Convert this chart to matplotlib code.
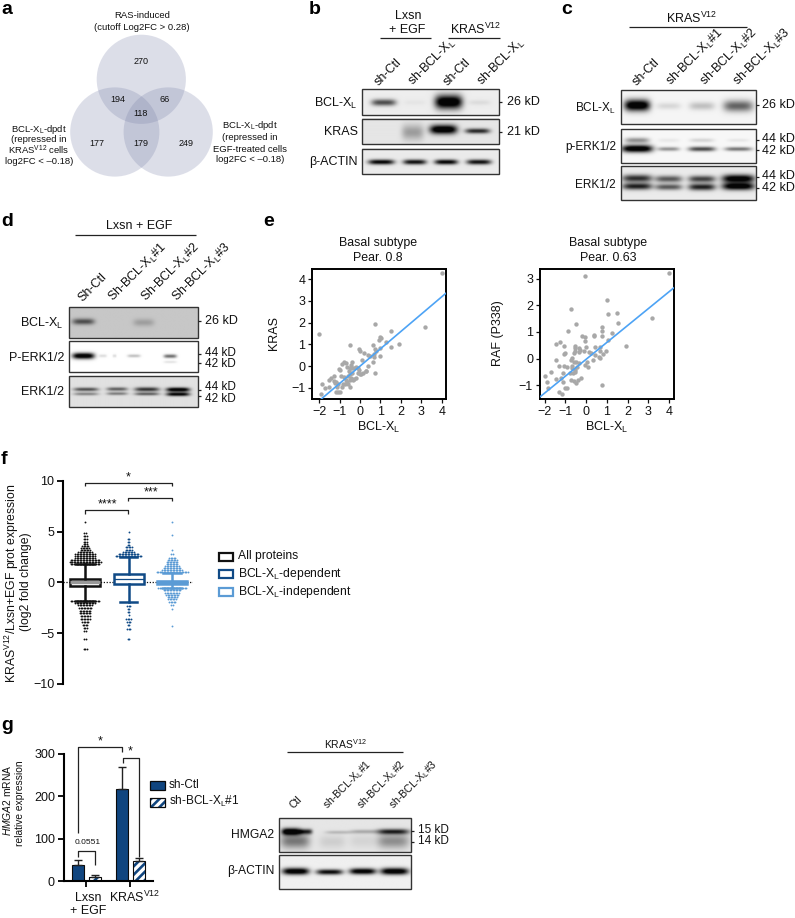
import numpy as np
import matplotlib
matplotlib.use("Agg")
import matplotlib.pyplot as plt
from matplotlib.patches import Circle, Rectangle

plt.rcParams['font.family'] = ['Liberation Sans', 'DejaVu Sans']
plt.rcParams['mathtext.fontset'] = 'custom'
plt.rcParams['mathtext.rm'] = 'Liberation Sans'
plt.rcParams['mathtext.it'] = 'Liberation Sans:italic'
plt.rcParams['mathtext.bf'] = 'Liberation Sans:bold'
plt.rcParams['mathtext.default'] = 'regular'
plt.rcParams['hatch.linewidth'] = 1.9

W, H = 795, 918
XL = r'BCL-X$_{L}$'
SHXL = r'sh-BCL-X$_{L}$'
KV = r'KRAS$^{V12}$'

# ---------------- data ----------------
venn_counts = ['270', '194', '66', '118', '177', '179', '249']

# scatter e (BCL-XL vs KRAS)
e1_x = [4.0,3.2,-2.0,0.75,1.5,1.9,1.5,1.0,1.05,0.95,1.25,0.65,-0.5,-0.05,0.0,0.2,0.4,0.5,0.75,0.8,0.7,0.7,1.0,1.0,0.65,0.4,0.3,0.75,0.1,
        -1.9,-1.85,-1.7,-1.5,-1.5,-1.4,-1.3,-1.3,-1.25,-1.2,-1.15,-1.1,-1.1,-1.2,-1.0,-1.0,-1.05,-0.9,-0.8,-0.7,-0.65,-0.5,-0.45,-0.4,-0.4,-0.3,-0.2,-0.1,
        -0.55,-0.5,-0.6,-0.4,-0.45,-0.35,-0.5,-0.2,-0.3,-0.1,-0.05,0.0,0.05,0.15,0.3,-0.65,-0.7,-0.8,-0.85,-0.75,-0.6,-0.5,-0.9,-0.95]
e1_y = [4.28,1.82,1.5,1.95,1.63,1.0,0.9,1.35,1.3,1.2,1.1,0.97,0.97,0.78,0.7,0.6,0.5,0.45,0.8,0.7,0.55,0.4,0.85,0.45,0.2,-0.02,-0.25,-0.3,0.3,
        -1.3,-0.85,-1.0,-0.95,-0.65,-0.55,-0.45,-0.7,-0.8,-0.75,-0.95,-0.85,-1.2,-1.2,-1.2,-0.2,-0.15,0.1,0.2,0.15,-0.05,-0.1,0.05,-0.1,0.2,-0.1,-0.05,-0.1,
        -0.25,-0.35,-0.45,-0.3,-0.55,-0.65,-0.65,-0.55,-0.6,-0.3,-0.2,-0.35,-0.35,-0.3,-0.25,-0.75,-0.65,-0.5,-0.85,-0.85,-0.85,-0.95,-0.95,-0.45]
e1_fit_x = [-1.9, 4.21]
e1_fit_y = [-1.52, 3.36]

# scatter e (BCL-XL vs RAF P338)
e2_x = [4.0,-0.05,1.0,-0.75,1.5,1.05,3.2,-0.47,1.55,0.77,0.77,-0.86,1.26,-0.2,-0.05,0.4,0.4,0.77,-0.05,1.05,-1.45,-1.25,-1.06,1.92,
        -0.53,-0.53,-0.36,-0.32,-0.52,-0.6,-0.34,-0.12,0.0,0.45,0.68,0.65,0.98,0.13,0.25,-1.0,-1.05,0.43,0.6,0.8,0.65,-1.45,-0.74,-0.66,-0.61,0.33,0.05,
        -0.07,0.08,-1.3,-1.08,-0.93,-0.66,-0.69,-0.48,-0.35,-0.44,-0.52,-0.76,-0.64,-0.52,-1.7,-2.0,-1.12,-1.45,-1.2,-1.87,-1.1,-0.74,-0.61,-0.48,-0.4,-0.26,0.77,-1.82,-1.0,-0.93,-1.3,-1.15]
e2_y = [3.2,3.08,2.18,1.86,1.72,1.68,1.51,1.3,1.35,1.19,1.05,1.04,0.98,0.84,0.8,0.89,0.84,0.86,0.66,0.7,0.56,0.62,0.47,0.49,
        0.47,0.39,0.39,0.33,0.3,0.22,0.25,0.29,0.44,0.45,0.44,0.3,0.27,0.25,0.2,0.21,0.16,0.12,0.07,0.16,0.04,-0.05,-0.05,0.01,-0.11,-0.05,-0.11,
        -0.25,-0.31,-0.28,-0.26,-0.3,-0.26,-0.36,-0.11,-0.18,-0.3,-0.42,-0.53,-0.53,-0.49,-0.49,-0.64,-0.54,-0.76,-0.71,-0.88,-0.86,-0.81,-0.83,-0.9,-0.8,-0.71,-0.98,-1.08,-1.09,-1.1,-1.24,-1.33]
e2_fit_x = [-2.23, 4.23]
e2_fit_y = [-1.43, 2.65]

# panel f: rows of the swarm (level, number of dots)
f_names = ['All proteins', 'BCL-XL-dependent', 'BCL-XL-independent']
f_levels = [
    [1.8,2.0,2.2,2.4,2.6,2.8,3.0,3.2,3.4,3.6,3.8,4.0,4.3,4.6,4.9,5.9,
     -1.8,-2.0,-2.2,-2.5,-2.8,-3.0,-3.3,-3.6,-3.9,-4.2,-4.5,-4.8,-5.6,-6.6],
    [2.6,2.8,3.0,3.2,3.5,3.7,4.0,4.3,5.0,
     -2.3,-2.6,-2.9,-3.2,-3.6,-3.9,-4.2,-4.6,-5.6],
    [1.0,1.2,1.4,1.6,1.8,2.0,2.2,2.4,2.8,3.2,4.7,5.9,
     -0.6,-0.8,-1.0,-1.2,-1.4,-1.6,-1.9,-2.2,-2.6,-4.3],
]
f_counts = [
    [20,22,20,14,14,14,10,7,6,5,3,3,3,3,2,1, 20,14,10,9,8,8,7,7,5,4,3,2,2,3],
    [18,14,8,5,5,2,2,2,1, 3,2,2,1,4,3,2,3,2],
    [22,14,12,10,8,8,7,5,2,1,1,1, 20,12,10,9,7,6,5,2,1,1],
]
f_q1 = [-0.33, -0.2, -0.13]
f_med = [0.0, 0.3, 0.0]
f_q3 = [0.33, 0.79, 0.13]
f_low = [-1.8, -1.9, -0.6]
f_high = [1.8, 2.5, 0.9]

# panel g bars
g_ctl = [38, 217]
g_ctl_err = [12, 52]
g_sh = [11, 48]
g_sh_err = [5, 6]

# blot bands: x centre, y centre, half width, half height, darkness (fractions of the blot)
blot_b = [
    (0.93, [(.158,.52,.09,.13,.55),(.385,.52,.08,.1,.03),(.633,.5,.1,.27,1.0),(.859,.52,.08,.1,.06)]),
    (0.90, [(.37,.55,.08,.3,.25),(.595,.44,.1,.18,.95),(.845,.5,.09,.1,.65)]),
    (0.92, [(.14,.54,.095,.1,.8),(.385,.54,.085,.1,.75),(.615,.54,.085,.1,.8),(.855,.54,.09,.1,.75)]),
]
blot_c = [
    (0.96, [(.119,.45,.095,.17,1.0),(.353,.47,.09,.1,.1),(.6,.47,.095,.12,.18),(.87,.47,.11,.17,.5)]),
    (0.97, [(.119,.58,.115,.11,1.0),(.353,.59,.08,.06,.35),(.6,.59,.1,.07,.6),(.87,.59,.1,.06,.45),
            (.119,.33,.09,.08,.35),(.353,.33,.08,.06,.05),(.6,.33,.09,.06,.12),(.87,.33,.08,.05,.06)]),
    (0.92, [(.119,.36,.11,.11,.65),(.353,.38,.1,.1,.5),(.6,.38,.1,.1,.58),(.87,.37,.12,.12,.9),
            (.119,.6,.11,.1,.7),(.353,.62,.1,.09,.5),(.6,.62,.1,.1,.7),(.87,.6,.12,.11,.9)]),
]
blot_d = [
    (0.78, [(.11,.47,.085,.1,.42),(.575,.5,.08,.12,.14)]),
    (1.00, [(.11,.48,.085,.1,1.0),(.26,.48,.03,.05,.12),(.35,.48,.015,.05,.12),(.5,.48,.05,.05,.22),(.78,.49,.05,.06,.5),(.78,.68,.05,.04,.1)]),
    (0.88, [(.13,.43,.095,.06,.5),(.37,.42,.08,.06,.45),(.6,.43,.095,.07,.6),(.84,.44,.09,.07,.88),
            (.13,.58,.095,.05,.32),(.37,.57,.08,.05,.35),(.6,.58,.095,.05,.45),(.84,.59,.09,.06,.8)]),
]
blot_g = [
    (0.90, [(.09,.4,.07,.1,1.0),(.2,.4,.05,.08,.65),(.45,.42,.1,.05,.15),(.64,.4,.1,.06,.2),(.86,.4,.12,.08,.65),
            (.12,.68,.11,.22,.38),(.86,.68,.12,.22,.3),(.4,.7,.1,.2,.08),(.63,.68,.1,.2,.06)]),
    (0.94, [(.125,.48,.1,.1,.95),(.38,.5,.1,.08,.8),(.63,.48,.1,.09,.9),(.87,.48,.105,.1,.95)]),
]
# --------------------------------------

fig = plt.figure(figsize=(W / 100, H / 100), dpi=100)
ov = fig.add_axes([0, 0, 1, 1], zorder=0)
ov.set_xlim(0, W)
ov.set_ylim(H, 0)
ov.axis('off')


def T(x, y, s, size=9, ha='center', va='center', **kw):
    ov.text(x, y, s, fontsize=size, ha=ha, va=va, color=kw.pop('color', '#111111'), **kw)


def L(xs, ys, lw=0.9, color='#222222', **kw):
    ov.plot(xs, ys, color=color, lw=lw, solid_capstyle='butt', **kw)


def blot(x0, x1, y0, y1, bg, bands):
    nx, ny = int((x1 - x0) * 2), int((y1 - y0) * 2)
    xx, yy = np.meshgrid(np.linspace(0, 1, nx), np.linspace(0, 1, ny))
    im = np.full_like(xx, bg)
    for cx, cy, w, h, d in bands:
        im = im - 1.15 * d * np.exp(-((xx - cx) / w) ** 4 - ((yy - cy) / h) ** 2)
    ov.imshow(np.clip(im, 0.02, 1), extent=(x0, x1, y1, y0), cmap='gray', vmin=0, vmax=1,
              aspect='auto', interpolation='bilinear', zorder=1)
    ov.add_patch(Rectangle((x0, y0), x1 - x0, y1 - y0, fill=False, ec='#333333', lw=1.0, zorder=2))


def panel_axes(l, r, t, b):
    return fig.add_axes([l / W, 1 - b / H, (r - l) / W, (b - t) / H], zorder=2)


def lane_label(x, y, s, size=9):
    T(x, y, s, size, ha='left', va='baseline', rotation=45, rotation_mode='anchor')


# panel letters
for s, x, y in [('a', 1, 10), ('b', 309, 10), ('c', 561, 10), ('d', 1, 222), ('e', 263, 222),
                ('f', 1, 460), ('g', 1, 726)]:
    T(x, y, s, size=14, ha='left', fontweight='bold', color='black')

# ---- a: Venn
for cx, cy in [(141.3, 79.3), (114.8, 132), (168.2, 132)]:
    ov.add_patch(Circle((cx, cy), 44.6, fc='#777FA7', ec='none', alpha=0.25))
for s, x, y in zip(venn_counts, [141, 118, 165, 141, 97, 141, 186], [62, 99, 99, 114, 144, 144, 144]):
    T(x, y, s, size=6.5)
T(142, 15, 'RAS-induced', 6.8)
T(142, 27, '(cutoff Log2FC > 0.28)', 6.8)
for s, y in zip([XL + '-dpdt', '(repressed in', KV + ' cells', 'log2FC < \u20130.18)'],
                [129, 140, 150, 162]):
    T(39, y, s, 6.8)
for s, y in zip([XL + '-dpdt', '(repressed in', 'EGF-treated cells', 'log2FC < \u20130.18)'],
                [126, 137, 149, 160]):
    T(250, y, s, 6.8)

# ---- b
for (bg, bands), (y0, y1) in zip(blot_b, [(89, 115), (118.7, 144.3), (148.7, 174.3)]):
    blot(362.3, 499.3, y0, y1, bg, bands)
T(408, 16, 'Lxsn', 9)
T(407, 30, '+ EGF', 9)
T(476, 29, KV, 9)
L([379.5, 430.5], [38, 38])
L([448, 499.5], [38, 38])
for s, x in zip(['sh-Ctl', SHXL, 'sh-Ctl', SHXL], [379, 413, 448, 482]):
    lane_label(x, 86, s)
T(358, 103, XL, 9, ha='right')
T(358, 132, 'KRAS', 9, ha='right')
T(358, 162, '\u03b2-ACTIN', 9, ha='right')
L([499.3, 502], [102, 102])
L([499.3, 502], [132, 132])
T(507, 102, '26 kD', 9, ha='left')
T(507, 132, '21 kD', 9, ha='left')

# ---- c
for (bg, bands), (y0, y1) in zip(blot_c, [(90.3, 124.3), (128.7, 162.7), (166.3, 200)]):
    blot(620.7, 755.7, y0, y1, bg, bands)
T(692, 18, KV, 9)
L([629, 747], [27, 27])
for s, x in zip(['sh-Ctl', SHXL + '#1', SHXL + '#2', SHXL + '#3'], [637, 671, 705, 738]):
    lane_label(x, 86, s)
T(616, 108, XL, 8.5, ha='right')
T(616, 147, 'p-ERK1/2', 8.5, ha='right')
T(616, 185, 'ERK1/2', 8.5, ha='right')
for y in [105, 140, 150, 177, 188]:
    L([755.7, 758.5], [y, y])
for s, y in zip(['26 kD', '44 kD', '42 kD', '44 kD', '42 kD'], [105, 139, 151, 176, 188]):
    T(762, y, s, 9, ha='left')

# ---- d
for (bg, bands), (y0, y1) in zip(blot_d, [(307, 337.7), (341.3, 372.3), (376, 407)]):
    blot(69, 198.3, y0, y1, bg, bands)
T(139, 226, 'Lxsn + EGF', 9)
L([75, 196], [235, 235])
for s, x in zip(['Sh-Ctl', 'Sh-BCL-X$_{L}$#1', 'Sh-BCL-X$_{L}$#2', 'Sh-BCL-X$_{L}$#3'], [82, 113, 146, 177]):
    lane_label(x, 302, s)
T(64, 323, XL, 9, ha='right')
T(64, 358, 'P-ERK1/2', 9, ha='right')
T(64, 392, 'ERK1/2', 9, ha='right')
for y in [321, 354, 363, 390, 396]:
    L([198.3, 201], [y, y])
for s, y, sz in zip(['26 kD', '44 kD', '42 kD', '44 kD', '42 kD'], [321, 352.5, 364, 387.5, 399],
                    [9, 8.5, 8.5, 8.5, 8.5]):
    T(205, y, s, sz, ha='left')

# ---- e
for (l, r, xlim, ylim, xs, ys, fx, fy, yt, ttl, cx, yl, ylx) in [
    (312.3, 446, (-2.34, 4.21), (-1.52, 4.475), e1_x, e1_y, e1_fit_x, e1_fit_y, [-1, 0, 1, 2, 3, 4],
     'Pear. 0.8', 378, 'KRAS', 274),
    (540, 673.7, (-2.23, 4.23), (-1.51, 3.36), e2_x, e2_y, e2_fit_x, e2_fit_y, [-1, 0, 1, 2, 3],
     'Pear. 0.63', 608, 'RAF (P338)', 498),
]:
    ax = panel_axes(l, r, 269, 399)
    ax.scatter(xs, ys, s=10, color='#a8a8a8', linewidths=0, zorder=2)
    ax.plot(fx, fy, color='#4da3f5', lw=1.2, zorder=3)
    ax.set_xlim(*xlim)
    ax.set_ylim(*ylim)
    ax.set_xticks([-2, -1, 0, 1, 2, 3, 4])
    ax.set_xticklabels(['\u22122', '\u22121', '0', '1', '2', '3', '4'])
    ax.set_yticks(yt)
    ax.set_yticklabels([str(v).replace('-', '\u2212') for v in yt])
    ax.tick_params(labelsize=9, length=3, width=0.9, pad=2, colors='#111111')
    for sp in ax.spines.values():
        sp.set_linewidth(1.4)
    T(cx, 243, 'Basal subtype', 8.9)
    T(cx, 258, ttl, 8.9)
    T((l + r) / 2, 427, XL, 9)
    T(ylx, 333, yl, 9, rotation=90)

# ---- f
f_cols = ['#111111', '#104a86', '#5b9bd5']
ax = panel_axes(63.3, 193, 480.7, 684)
ax.patch.set_visible(False)
ax.set_xlim(0.5, 3.48)
ax.set_ylim(-10, 10)
ax.axhline(0, color='#111111', lw=0.9, ls=(0, (1, 1.3)), zorder=1)
for i, (lv, ct, col) in enumerate(zip(f_levels, f_counts, f_cols)):
    xs, ys = [], []
    for y, n in zip(lv, ct):
        xs.extend(i + 1 + (np.arange(n) - (n - 1) / 2) * 0.034)
        ys.extend([y] * n)
    ax.scatter(xs, ys, s=1.8, color=col, linewidths=0, zorder=2)
stats = [dict(med=m, q1=a, q3=b, whislo=lo, whishi=hi, fliers=[])
         for m, a, b, lo, hi in zip(f_med, f_q1, f_q3, f_low, f_high)]
for i, (st, col) in enumerate(zip(stats, f_cols)):
    lw = 1.8
    ax.bxp([st], positions=[i + 1], widths=0.69, showfliers=False, patch_artist=True, capwidths=0.4,
           manage_ticks=False, zorder=3,
           boxprops=dict(edgecolor=col, facecolor='white', lw=lw),
           medianprops=dict(color='#999999' if i == 0 else col, lw=2.4 if i != 1 else 0.9, ls='-'),
           whiskerprops=dict(color=col, lw=lw), capprops=dict(color=col, lw=lw))
ax.set_xticks([])
ax.set_yticks([-10, -5, 0, 5, 10])
ax.set_yticklabels(['\u221210', '\u22125', '0', '5', '10'])
ax.tick_params(labelsize=9, length=4.5, width=1.4, pad=2, colors='#111111')
for k in ('top', 'right', 'bottom'):
    ax.spines[k].set_visible(False)
ax.spines['left'].set_linewidth(1.5)
T(12, 583.5, r'KRAS$^{V12}$/Lxsn+EGF prot expression', 8.8, rotation=90)
T(26, 582, '(log2 fold change)', 8.8, rotation=90)
L([85, 85, 172, 172], [486, 482.5, 482.5, 486], lw=0.9)
L([128, 128, 172, 172], [501, 497.5, 497.5, 501], lw=0.9)
L([85, 85, 128, 128], [513.5, 510, 510, 513.5], lw=0.9)
T(128, 477, '*', 9)
T(151, 492, '***', 9)
T(107, 504, '****', 9)
for nm, y, col in zip(['All proteins', XL + '-dependent', XL + '-independent'], [556.5, 574, 592], f_cols):
    ov.add_patch(Rectangle((219, y - 4), 13.5, 8, fill=False, ec=col, lw=1.6))
    T(237.5, y, nm, 8.7, ha='left')

# ---- g
ax = panel_axes(64, 152.7, 754, 881.3)
ax.patch.set_visible(False)
ax.set_xlim(0, 88.7)
ax.set_ylim(0, 300)
NAVY = '#10457f'
grp = [22, 66]
ax.bar([g - 8.2 for g in grp], g_ctl, width=12, color=NAVY, ec='#0a0a0a', lw=0.8,
       yerr=[[0, 0], g_ctl_err], ecolor='#222222', error_kw=dict(lw=1, capsize=3, capthick=1))
ax.bar([g + 8.6 for g in grp], g_sh, width=12, color='white', ec=NAVY, hatch='////', lw=0,
       yerr=[[0, 0], g_sh_err], ecolor='#222222', error_kw=dict(lw=1, capsize=3, capthick=1))
ax.bar([g + 8.6 for g in grp], g_sh, width=12, fill=False, ec='#0a0a0a', lw=0.8)
ax.set_xticks(grp)
ax.set_xticklabels([])
ax.set_yticks([0, 100, 200, 300])
ax.tick_params(labelsize=9, length=4.5, width=1.4, pad=2, colors='#111111')
for k in ('top', 'right'):
    ax.spines[k].set_visible(False)
for k in ('left', 'bottom'):
    ax.spines[k].set_linewidth(1.5)
T(7.5, 800, r'$\mathit{HMGA2}$ mRNA', 7.4, rotation=90)
T(20, 803, 'relative expression', 7.4, rotation=90)
T(88, 898, 'Lxsn', 9)
T(88, 911, '+ EGF', 9)
T(135, 897, KV, 9)
L([77.7, 77.7, 122.3, 122.3], [833, 747.3, 747.3, 752], lw=0.9)
L([122.7, 122.7, 138.7, 138.7], [763, 758, 758, 856.7], lw=0.9)
L([77.7, 77.7, 95, 95], [856.7, 850.7, 850.7, 865], lw=0.9)
T(100, 741, '*', 9)
T(130.5, 751, '*', 9)
T(88, 843, '0.0551', 6)
ov.add_patch(Rectangle((150, 781), 15, 8.5, fc=NAVY, ec='#0a0a0a', lw=0.9))
ov.add_patch(Rectangle((150, 797.5), 15, 9, fc='white', ec=NAVY, hatch='////', lw=0))
ov.add_patch(Rectangle((150, 797.5), 15, 9, fill=False, ec='#0a0a0a', lw=0.9))
T(169, 785, 'sh-Ctl', 8.5, ha='left')
T(169, 801, SHXL + '#1', 8.5, ha='left')

# ---- g blot
for (bg, bands), (y0, y1) in zip(blot_g, [(818.3, 851.7), (855.3, 888.7)]):
    blot(278.7, 411, y0, y1, bg, bands)
T(345, 744, KV, 7.5)
L([287, 403], [752, 752])
for s, x in zip(['Ctl', SHXL + '#1', SHXL + '#2', SHXL + '#3'], [294, 327, 361, 393]):
    lane_label(x, 809, s, 7.6)
T(274, 835, 'HMGA2', 8.7, ha='right')
T(274, 871, '\u03b2-ACTIN', 8.7, ha='right')
for y in [831, 842]:
    L([411, 414], [y, y])
T(418, 830, '15 kD', 8.5, ha='left')
T(418, 841.5, '14 kD', 8.5, ha='left')

ov.set_xlim(0, W)
ov.set_ylim(H, 0)
fig.savefig('out.png', dpi=100)
